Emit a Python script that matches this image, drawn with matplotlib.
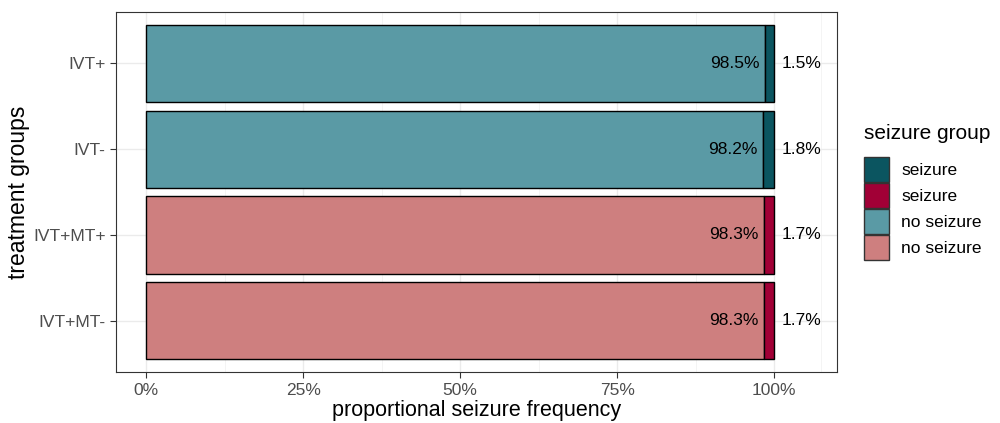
import numpy as np
import matplotlib.pyplot as plt
from matplotlib.patches import Patch

plt.rcParams['font.family'] = ['Liberation Sans', 'DejaVu Sans']

groups = ['IVT+', 'IVT-', 'IVT+MT+', 'IVT+MT-']
no_seizure = [98.5, 98.2, 98.3, 98.3]
seizure = [1.5, 1.8, 1.7, 1.7]

col_seiz = ['#0b5560', '#0b5560', '#a10036', '#a10036']
col_noseiz = ['#5a9aa5', '#5a9aa5', '#ce7f7f', '#ce7f7f']

fig = plt.figure(figsize=(10, 4.23), dpi=100)
ax = fig.add_axes([0.116, 0.12, 0.721, 0.852])

y = np.arange(len(groups))[::-1] + 1
ns = np.array(no_seizure) / 100
sz = np.array(seizure) / 100

ax.barh(y, ns, height=0.9, color=col_noseiz, edgecolor='black', linewidth=1.0, zorder=3)
ax.barh(y, sz, left=ns, height=0.9, color=col_seiz, edgecolor='black', linewidth=1.0, zorder=3)

for yi, a, b in zip(y, no_seizure, seizure):
    ax.text(a / 100 - 0.008, yi, f'{a:.1f}%', ha='right', va='center', fontsize=12.5, zorder=4)
    ax.text(1.0 + 0.012, yi, f'{b:.1f}%', ha='left', va='center', fontsize=12.5, zorder=4)

ax.set_xlim(-0.048, 1.1)
ax.set_ylim(0.4, 4.6)
ax.set_xticks([0, 0.25, 0.5, 0.75, 1.0])
ax.set_xticklabels(['0%', '25%', '50%', '75%', '100%'])
ax.set_xticks([0.125, 0.375, 0.625, 0.875, 1.075], minor=True)
ax.set_yticks(y)
ax.set_yticklabels(groups)
ax.tick_params(axis='both', which='major', labelsize=12.5, labelcolor='#4d4d4d', color='#333333', length=4)
ax.tick_params(axis='x', which='minor', length=0)
ax.grid(True, which='major', color='#ebebeb', linewidth=1.0, zorder=0)
ax.grid(True, which='minor', axis='x', color='#f2f2f2', linewidth=0.6, zorder=0)
for s in ax.spines.values():
    s.set_color('#333333')
    s.set_linewidth(0.8)

ax.set_xlabel('proportional seizure frequency', fontsize=15.5, labelpad=2)
ax.set_ylabel('treatment groups', fontsize=16.5, labelpad=2)

handles = [Patch(facecolor='#0b5560', edgecolor='#333333'),
           Patch(facecolor='#a10036', edgecolor='#333333'),
           Patch(facecolor='#5a9aa5', edgecolor='#333333'),
           Patch(facecolor='#ce7f7f', edgecolor='#333333')]
labels = ['seizure', 'seizure', 'no seizure', 'no seizure']
leg = fig.legend(handles, labels, title='seizure group', loc='upper left',
                 bbox_to_anchor=(0.857, 0.724), frameon=False, fontsize=12.5,
                 title_fontsize=15, handlelength=1.45, handleheight=1.85,
                 handletextpad=0.7, labelspacing=0.05, borderaxespad=0)
leg._legend_box.align = 'left'
leg._legend_box.sep = 10

fig.savefig('out.png', dpi=100)
